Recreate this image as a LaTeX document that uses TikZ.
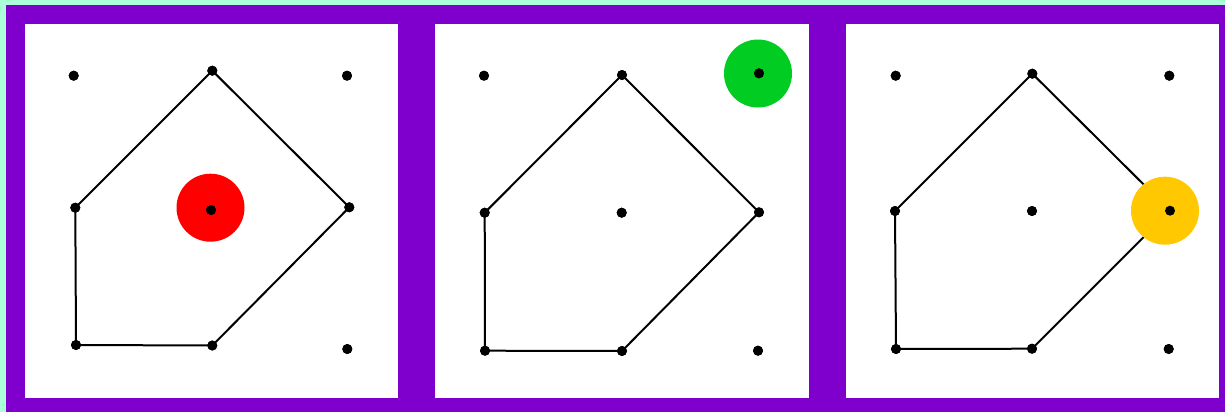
\documentclass[tikz,border=0pt]{standalone}
\definecolor{mint}{HTML}{AAFFD8}
\definecolor{frame}{HTML}{7F00CC}
\definecolor{hotred}{HTML}{FF0000}
\definecolor{hotgreen}{HTML}{00CC22}
\definecolor{hotyellow}{HTML}{FFC800}
\tikzset{
  dot/.style={circle,fill=black,inner sep=0pt,minimum size=10pt},
  halo/.style={circle,inner sep=0pt,minimum size=68pt},
  edge/.style={line width=2pt,black,line join=round},
  panel/.style={fill=white}
}
\begin{document}
\begin{tikzpicture}[x=1pt,y=-1pt]
\useasboundingbox (0,0) rectangle (1225,412);
\fill[mint] (0,0) rectangle (1225,412);
\fill[frame] (6,5) rectangle (1225,412);
\fill[panel] (25,24) rectangle (398,398);
\fill[panel] (435,24) rectangle (809,398);
\fill[panel] (846,24) rectangle (1219,398);
% panel 1
\node[halo,fill=hotred] (h1) at (210.5,207.7) {};
\node[dot] (a1) at (73.7,75.7) {};
\node[dot] (a2) at (212.3,70.7) {};
\node[dot] (a3) at (347,75.7) {};
\node[dot] (a4) at (75.3,207.7) {};
\node[dot] (a5) at (211,210) {};
\node[dot] (a6) at (349.3,207.3) {};
\node[dot] (a7) at (76,345) {};
\node[dot] (a8) at (212.3,345.5) {};
\node[dot] (a9) at (347.3,349) {};
% panel 2
\node[halo,fill=hotgreen] (h2) at (758,73.5) {};
\node[dot] (b1) at (484,75.7) {};
\node[dot] (b2) at (622,75) {};
\node[dot] (b3) at (759,73.3) {};
\node[dot] (b4) at (484.7,212.7) {};
\node[dot] (b5) at (621.7,212.7) {};
\node[dot] (b6) at (759,212.3) {};
\node[dot] (b7) at (485,350.7) {};
\node[dot] (b8) at (622,351) {};
\node[dot] (b9) at (758,350.7) {};
% panel 3
\node[dot] (c1) at (895.7,75.7) {};
\node[dot] (c2) at (1032.3,73.7) {};
\node[dot] (c3) at (1169.3,75.7) {};
\node[dot] (c4) at (895,211) {};
\node[dot] (c5) at (1032,211) {};
\node[dot] (c6) at (1170,210.7) {};
\node[dot] (c7) at (896,349) {};
\node[dot] (c8) at (1032,348.7) {};
\node[dot] (c9) at (1168.7,349) {};
% edges
\draw[edge] (a2.center) -- (a6.center) -- (a8.center) -- (a7.center) -- (a4.center) -- cycle;
\draw[edge] (b2.center) -- (b6.center) -- (b8.center) -- (b7.center) -- (b4.center) -- cycle;
\draw[edge] (c2.center) -- (c6.center) -- (c8.center) -- (c7.center) -- (c4.center) -- cycle;
% redraw dots on top of edges
\foreach \n in {a1,a2,a3,a4,a6,a7,a8,a9,b1,b2,b3,b4,b5,b6,b7,b8,b9,c1,c2,c3,c4,c5,c7,c8,c9}
  \fill (\n.center) circle (5pt);
\node[halo,fill=hotyellow] (h3) at (1165,210.7) {};
\fill (c6.center) circle (5pt);
\fill (a5.center) circle (5pt);
\end{tikzpicture}
\end{document}
